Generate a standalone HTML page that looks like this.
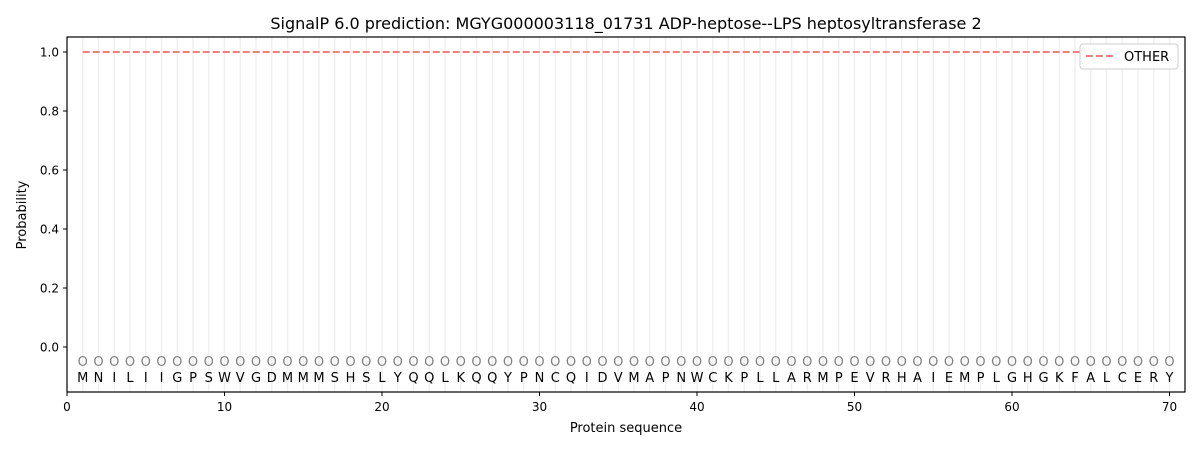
<!DOCTYPE html>
<html><head><meta charset="utf-8"><style>
body{margin:0;background:#fff}
svg{font-family:"DejaVu Sans","Liberation Sans",sans-serif}
</style></head><body>
<svg id="s" width="1200" height="450" xmlns="http://www.w3.org/2000/svg">
<rect width="1200" height="450" fill="#fff"/>
<g id="grid"></g>
<line x1="82.75" y1="52" x2="1169.5" y2="52" stroke="#f08080" stroke-width="2" stroke-dasharray="7,3"/>
<g id="seq" font-size="13"></g>
<rect x="67" y="37" width="1118" height="355" fill="none" stroke="#000" stroke-width="1.2"/>
<g id="ticks" font-size="12"></g>
<text x="626" y="29" font-size="16" text-anchor="middle">SignalP 6.0 prediction: MGYG000003118_01731 ADP-heptose--LPS heptosyltransferase 2</text>
<text x="626" y="432" font-size="13" text-anchor="middle">Protein sequence</text>
<text transform="translate(26,215) rotate(-90)" font-size="13" text-anchor="middle">Probability</text>
<rect x="1080" y="44" width="98" height="25" rx="3" fill="#fff" stroke="#ccc"/>
<line x1="1086" y1="56" x2="1114" y2="56" stroke="#f08080" stroke-width="2" stroke-dasharray="7,3"/>
<text x="1124" y="61" font-size="13">OTHER</text>
</svg>
<script>
var seq="MNILIIGPSWVGDMMMSHSLYQQLKQQYPNCQIDVMAPNWCKPLLARMPEVRHAIEMPLGHGKFALCERY";
var ns="http://www.w3.org/2000/svg";
function X(v){return 67+v*15.75}
function Y(v){return 347-v*295}
function el(p,t,a,txt){var e=document.createElementNS(ns,t);for(var k in a)e.setAttribute(k,a[k]);if(txt!=null)e.textContent=txt;document.getElementById(p).appendChild(e);}
for(var i=1;i<=70;i++){
 el("grid","line",{x1:X(i),x2:X(i),y1:37,y2:392,stroke:"#f0f0f0","stroke-width":1.5});
 el("seq","text",{x:X(i),y:366,"text-anchor":"middle",fill:"#808080"},"O");
 el("seq","text",{x:X(i),y:382,"text-anchor":"middle",fill:"#000"},seq[i-1]);
}
for(var t=0;t<=70;t+=10){
 el("ticks","line",{x1:X(t),x2:X(t),y1:392,y2:396,stroke:"#000"});
 el("ticks","text",{x:X(t),y:411,"text-anchor":"middle"},t);
}
for(var j=0;j<=5;j++){var v=j*0.2;
 el("ticks","line",{x1:63,x2:67,y1:Y(v),y2:Y(v),stroke:"#000"});
 el("ticks","text",{x:59,y:Y(v)+4.5,"text-anchor":"end"},v.toFixed(1));
}
</script>
</body></html>
